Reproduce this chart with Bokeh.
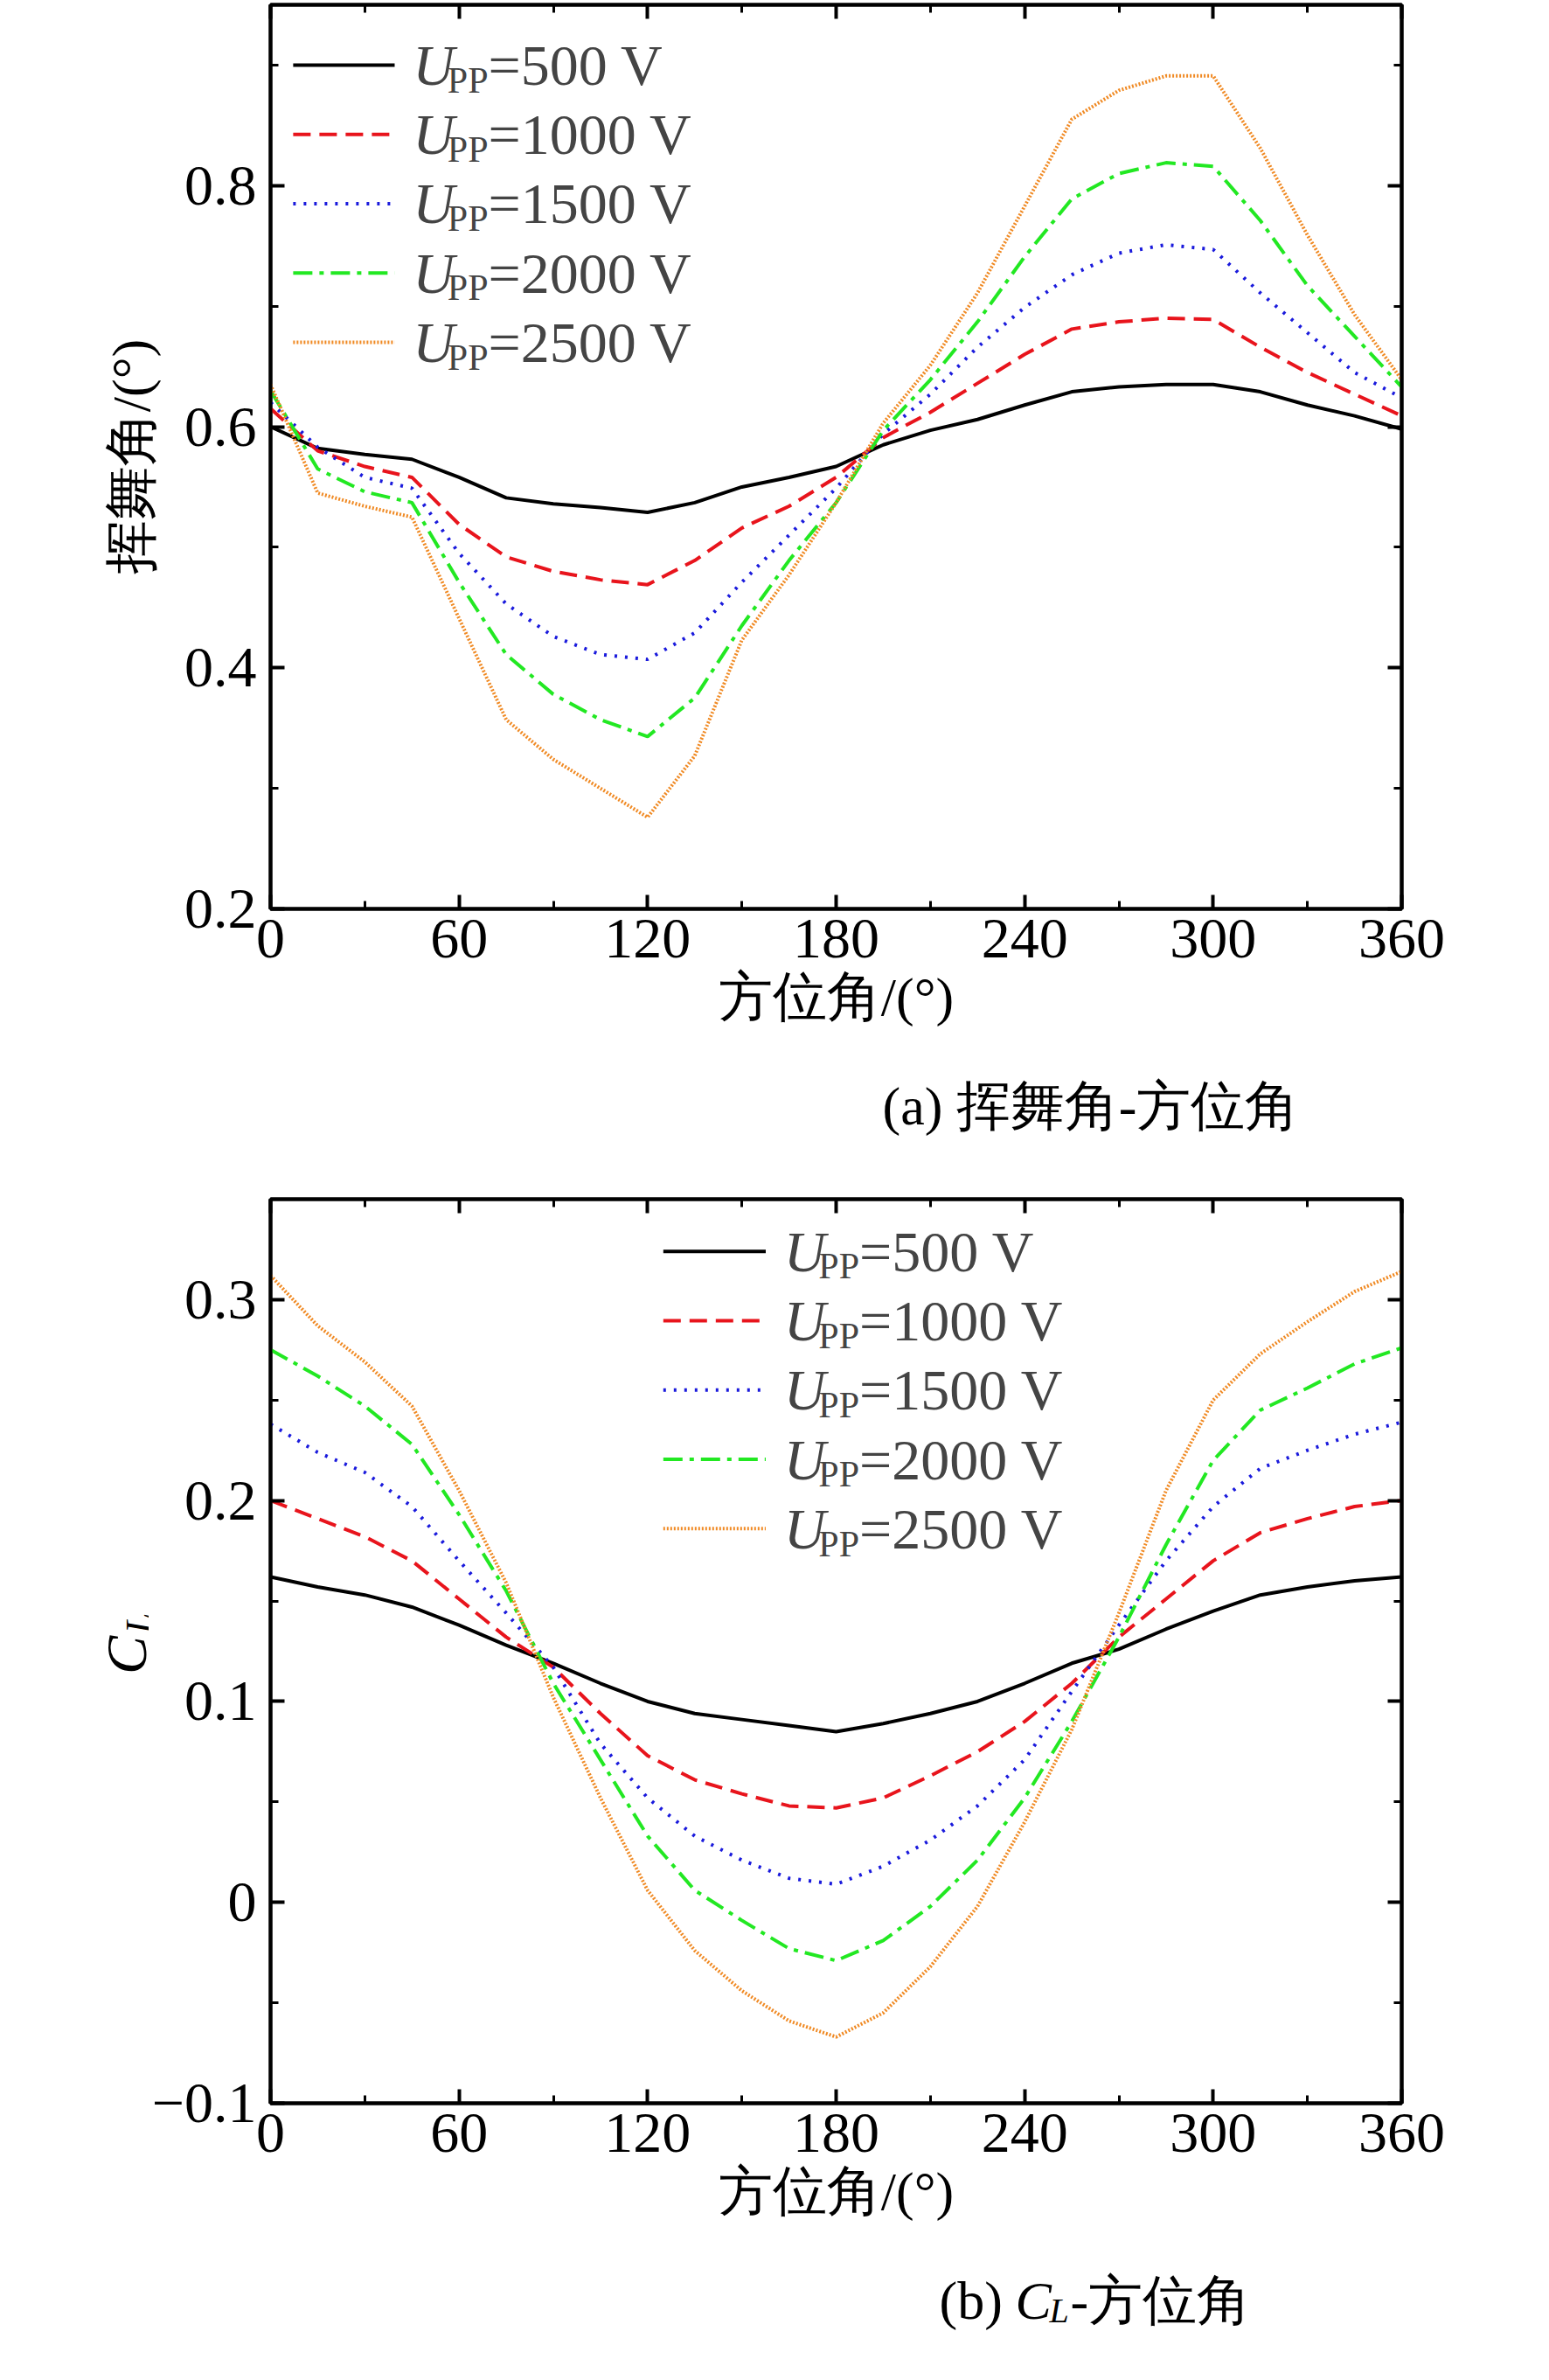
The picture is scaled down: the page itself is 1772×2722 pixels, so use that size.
import numpy as np
from bokeh.plotting import figure
from bokeh.layouts import column, row
from bokeh.models import LinearAxis, Range1d, Label, FixedTicker
from bokeh.core.properties import value
from bokeh.embed import file_html
from bokeh.resources import INLINE

azimuth = [0, 15, 30, 45, 60, 75, 90, 105, 120, 135, 150, 165, 180, 195, 210, 225, 240, 255, 270, 285, 300, 315, 330, 345, 360]
voltages = ["500", "1000", "1500", "2000", "2500"]

flap_500 = [0.600, 0.582, 0.577, 0.573, 0.558, 0.541, 0.536, 0.533, 0.529, 0.537, 0.550, 0.558, 0.567, 0.585, 0.597, 0.606, 0.618, 0.629, 0.633, 0.635, 0.635, 0.629, 0.618, 0.609, 0.598]
flap_1000 = [0.615, 0.580, 0.567, 0.558, 0.519, 0.492, 0.480, 0.473, 0.469, 0.489, 0.516, 0.534, 0.558, 0.591, 0.612, 0.636, 0.660, 0.681, 0.687, 0.690, 0.689, 0.666, 0.645, 0.627, 0.609]
flap_1500 = [0.620, 0.583, 0.558, 0.549, 0.495, 0.453, 0.426, 0.411, 0.407, 0.429, 0.471, 0.510, 0.549, 0.594, 0.627, 0.666, 0.699, 0.726, 0.744, 0.751, 0.747, 0.711, 0.678, 0.645, 0.624]
flap_2000 = [0.630, 0.565, 0.546, 0.537, 0.471, 0.411, 0.378, 0.357, 0.343, 0.375, 0.435, 0.489, 0.537, 0.597, 0.639, 0.687, 0.741, 0.789, 0.810, 0.819, 0.816, 0.771, 0.717, 0.675, 0.633]
flap_2500 = [0.635, 0.545, 0.534, 0.525, 0.441, 0.357, 0.324, 0.300, 0.276, 0.327, 0.423, 0.477, 0.537, 0.603, 0.651, 0.711, 0.783, 0.855, 0.879, 0.891, 0.891, 0.831, 0.759, 0.693, 0.639]

cl_500 = [0.162, 0.157, 0.153, 0.147, 0.138, 0.128, 0.119, 0.109, 0.100, 0.094, 0.091, 0.088, 0.085, 0.089, 0.094, 0.100, 0.109, 0.119, 0.126, 0.136, 0.145, 0.153, 0.157, 0.160, 0.162]
cl_1000 = [0.200, 0.191, 0.182, 0.170, 0.151, 0.132, 0.117, 0.094, 0.073, 0.061, 0.054, 0.048, 0.047, 0.052, 0.063, 0.075, 0.090, 0.109, 0.132, 0.151, 0.170, 0.184, 0.191, 0.197, 0.200]
cl_1500 = [0.238, 0.224, 0.214, 0.197, 0.170, 0.144, 0.117, 0.079, 0.052, 0.033, 0.021, 0.012, 0.009, 0.018, 0.031, 0.048, 0.071, 0.105, 0.138, 0.170, 0.197, 0.216, 0.225, 0.233, 0.239]
cl_2000 = [0.275, 0.262, 0.247, 0.228, 0.193, 0.155, 0.109, 0.071, 0.033, 0.006, -0.009, -0.023, -0.029, -0.019, -0.002, 0.021, 0.052, 0.090, 0.132, 0.178, 0.220, 0.245, 0.256, 0.268, 0.276]
cl_2500 = [0.312, 0.287, 0.269, 0.247, 0.205, 0.159, 0.102, 0.052, 0.006, -0.024, -0.044, -0.059, -0.067, -0.055, -0.032, -0.002, 0.040, 0.086, 0.144, 0.205, 0.250, 0.273, 0.289, 0.304, 0.314]

colors = ["black", "#e8141c", "#1a1adc", "#22e822", "#f08a24"]
dashes = ["solid", "20 10", "3 9", "22 8 5 8", "2 2"]

SERIF = "Liberation Serif"
FS = "66px"
BOT = 175


def make_fig(ylo, yhi, yticks, yminor, series, min_top, min_left):
    p = figure(frame_width=1294, frame_height=1034, x_range=Range1d(0, 360), y_range=Range1d(ylo, yhi),
               output_backend="svg", toolbar_location=None, min_border_left=min_left, min_border_right=60,
               min_border_top=min_top, min_border_bottom=BOT, outline_line_color="black", outline_line_width=4)
    p.grid.visible = False
    p.add_layout(LinearAxis(), "right")
    p.add_layout(LinearAxis(), "above")
    for ax in (p.below[0], p.above[0]):
        ax.ticker = FixedTicker(ticks=list(range(0, 361, 60)), minor_ticks=list(range(0, 361, 30)))
    for ax in (p.left[0], p.right[0]):
        ax.ticker = FixedTicker(ticks=yticks, minor_ticks=yminor)
    for ax in (p.below[0], p.above[0], p.left[0], p.right[0]):
        ax.axis_line_width = 4
        ax.major_tick_in = 16
        ax.major_tick_out = 0
        ax.minor_tick_in = 9
        ax.minor_tick_out = 0
        ax.major_tick_line_width = 4
        ax.minor_tick_line_width = 3
        ax.major_label_text_font = SERIF
        ax.major_label_text_font_size = FS
        ax.major_label_text_color = "black"
        ax.axis_label_text_font = SERIF
        ax.axis_label_text_font_size = "62px"
        ax.axis_label_text_font_style = "normal"
        ax.axis_label_text_color = "black"
    for ax in (p.right[0], p.above[0]):
        ax.major_label_text_font_size = "0px"
        ax.major_label_text_color = None
    p.below[0].axis_label = "方位角/(°)"
    p.below[0].major_label_standoff = 12
    p.below[0].axis_label_standoff = 8
    p.left[0].major_label_standoff = 16
    for ys, c, d in zip(series, colors, dashes):
        p.line(azimuth, ys, line_color=c, line_dash=d, line_width=4)
    return p


def legend(p, x0, x1, xt, ys, dy_sub):
    for v, y, c, d in zip(voltages, ys, colors, dashes):
        p.line([x0, x1], [y, y], line_color=c, line_dash=d, line_width=4)
        p.add_layout(Label(x=xt, y=y, text="U", text_font=SERIF, text_font_size=FS, text_font_style="italic",
                           text_baseline="middle"))
        p.add_layout(Label(x=xt + 11, y=y - dy_sub, text="PP", text_font=SERIF, text_font_size="42px",
                           text_baseline="middle"))
        p.add_layout(Label(x=xt + 24, y=y, text="=" + v + " V", text_font=SERIF, text_font_size=FS,
                           text_baseline="middle"))


def caption_fig(parts):
    c = figure(frame_width=1756, frame_height=100, x_range=Range1d(0, 1756), y_range=Range1d(0, 100),
               output_backend="svg", toolbar_location=None, min_border=0, outline_line_color=None)
    c.axis.visible = False
    c.grid.visible = False
    for x, y, t, size, style in parts:
        c.text(x=[x], y=[y], text=[t], text_font=value(SERIF), text_font_size=value(size),
               text_font_style=style, text_baseline="middle", text_color="black")
    return c


p1 = make_fig(0.2, 0.95, [0.2, 0.4, 0.6, 0.8], [0.3, 0.5, 0.7, 0.9],
              [flap_500, flap_1000, flap_1500, flap_2000, flap_2500], 5, 309)
p1.left[0].axis_label = "挥舞角/(°)"
p1.left[0].axis_label_standoff = 24
legend(p1, 7.2, 39.5, 45.3, [0.9, 0.8425, 0.785, 0.7275, 0.67], 0.0125)

cap1 = caption_fig([(700, 50, "(a) 挥舞角-方位角", "62px", "normal")])

p2 = make_fig(-0.1, 0.35, [-0.1, 0.0, 0.1, 0.2, 0.3], [-0.05, 0.05, 0.15, 0.25],
              [cl_500, cl_1000, cl_1500, cl_2000, cl_2500], 57, 139)
p2.left[0].major_label_overrides = {-0.1: "\u22120.1", 0: "0"}
legend(p2, 125, 157.6, 163.4, [0.324, 0.2895, 0.255, 0.2205, 0.186], 0.0075)

ylab = figure(frame_width=170, frame_height=1034, x_range=Range1d(0, 170), y_range=p2.y_range,
              output_backend="svg", toolbar_location=None, min_border_left=0, min_border_right=0,
              min_border_top=57, min_border_bottom=BOT, outline_line_color=None)
ylab.axis.visible = False
ylab.grid.visible = False
ylab.text(x=[144], y=[0.123], text=["C"], text_font=value(SERIF), text_font_size=value(FS),
          text_font_style="italic", text_align="center", text_baseline="middle", angle=np.pi / 2)
ylab.text(x=[158], y=[0.139], text=["L"], text_font=value(SERIF), text_font_size=value("42px"),
          text_font_style="italic", text_align="center", text_baseline="middle", angle=np.pi / 2)

cap2 = caption_fig([(765, 50, "(b)", "62px", "normal"), (852, 50, "C", "62px", "italic"),
                    (891, 38, "L", "40px", "italic"), (915, 50, "-方位角", "62px", "normal")])

layout = column(p1, cap1, row(ylab, p2, spacing=0), cap2, spacing=0)
open("out.html", "w").write(file_html(layout, INLINE))
